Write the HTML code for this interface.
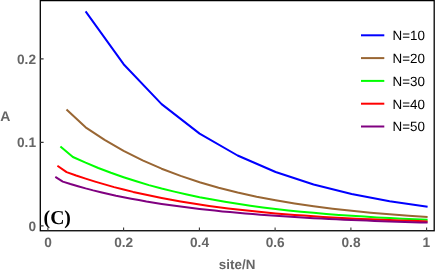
<!DOCTYPE html>
<html><head><meta charset="utf-8"><title>chart</title>
<style>html,body{margin:0;padding:0;background:#fff;}body{width:436px;height:273px;overflow:hidden;position:relative;font-family:"Liberation Sans",sans-serif;}</style>
</head><body>
<svg width="436" height="273" viewBox="0 0 436 273" style="position:absolute;left:0;top:0;will-change:transform;opacity:0.999;text-rendering:geometricPrecision">
<rect x="0" y="0" width="436" height="273" fill="#fff"/>
<path d="M85.6 11.3 L123.6 64.2 L161.6 104.1 L199.6 133.6 L237.6 155.5 L275.6 172.0 L313.6 184.5 L351.6 194.0 L389.6 201.3 L427.6 206.8" fill="none" stroke="#0000ff" stroke-width="2" stroke-linejoin="round" stroke-linecap="butt"/>
<path d="M66.5 109.4 L85.6 127.3 L104.6 139.9 L123.6 150.9 L142.6 160.4 L161.6 168.7 L180.6 175.9 L199.6 182.2 L218.6 187.7 L237.6 192.5 L256.6 196.7 L275.6 200.3 L294.6 203.5 L313.6 206.3 L332.6 208.7 L351.6 210.8 L370.6 212.7 L389.6 214.3 L408.6 215.8 L427.6 217.0" fill="none" stroke="#996633" stroke-width="2" stroke-linejoin="round" stroke-linecap="butt"/>
<path d="M60.4 146.4 L72.9 157.0 L85.6 162.7 L98.3 168.0 L110.9 172.8 L123.6 177.2 L136.3 181.3 L148.9 185.1 L161.6 188.5 L174.3 191.6 L186.9 194.5 L199.6 197.2 L212.3 199.6 L224.9 201.8 L237.6 203.8 L250.3 205.7 L262.9 207.4 L275.6 208.9 L288.3 210.4 L300.9 211.7 L313.6 212.8 L326.3 213.9 L338.9 214.9 L351.6 215.8 L364.3 216.6 L376.9 217.4 L389.6 218.1 L402.3 218.7 L414.9 219.3 L427.6 219.8" fill="none" stroke="#00ff00" stroke-width="2" stroke-linejoin="round" stroke-linecap="butt"/>
<path d="M57.4 165.7 L66.6 172.1 L76.1 175.5 L85.6 178.6 L95.1 181.6 L104.6 184.4 L114.1 187.1 L123.6 189.5 L133.1 191.9 L142.6 194.0 L152.1 196.1 L161.6 198.0 L171.1 199.8 L180.6 201.5 L190.1 203.1 L199.6 204.5 L209.1 205.9 L218.6 207.2 L228.1 208.4 L237.6 209.5 L247.1 210.6 L256.6 211.6 L266.1 212.5 L275.6 213.4 L285.1 214.2 L294.6 214.9 L304.1 215.6 L313.6 216.3 L323.1 216.9 L332.6 217.4 L342.1 218.0 L351.6 218.5 L361.1 218.9 L370.6 219.3 L380.1 219.7 L389.6 220.1 L399.1 220.5 L408.6 220.8 L418.1 221.1 L427.6 221.4" fill="none" stroke="#ff0000" stroke-width="2" stroke-linejoin="round" stroke-linecap="butt"/>
<path d="M55.3 176.9 L62.8 181.6 L70.4 184.0 L78.0 186.2 L85.6 188.4 L93.2 190.4 L100.8 192.2 L108.4 194.0 L116.0 195.7 L123.6 197.2 L131.2 198.7 L138.8 200.1 L146.4 201.5 L154.0 202.7 L161.6 203.9 L169.2 205.0 L176.8 206.1 L184.4 207.1 L192.0 208.0 L199.6 208.9 L207.2 209.8 L214.8 210.6 L222.4 211.4 L230.0 212.1 L237.6 212.8 L245.2 213.5 L252.8 214.1 L260.4 214.7 L268.0 215.3 L275.6 215.8 L283.2 216.3 L290.8 216.8 L298.4 217.3 L306.0 217.7 L313.6 218.2 L321.2 218.6 L328.8 219.0 L336.4 219.3 L344.0 219.7 L351.6 220.0 L359.2 220.3 L366.8 220.6 L374.4 220.9 L382.0 221.2 L389.6 221.5 L397.2 221.7 L404.8 221.9 L412.4 222.2 L420.0 222.4 L427.6 222.6" fill="none" stroke="#800080" stroke-width="2" stroke-linejoin="round" stroke-linecap="butt"/>
<rect x="40.3" y="0.6" width="393.9" height="230.15" fill="none" stroke="#000" stroke-width="1.3"/>
<path d="M47.9 230.5 V227.4 M123.6 230.5 V227.4 M199.4 230.5 V227.4 M275.1 230.5 V227.4 M350.9 230.5 V227.4 M426.6 230.5 V227.4 M40.3 225.9 H43.6 M40.3 142.4 H43.6 M40.3 58.9 H43.6" fill="none" stroke="#3a3a3a" stroke-width="1.1"/>
<text x="48.0" y="247.1" text-anchor="middle" font-family="Liberation Sans, sans-serif" font-weight="bold" font-size="13.7" fill="#666">0</text>
<text x="123.7" y="247.1" text-anchor="middle" font-family="Liberation Sans, sans-serif" font-weight="bold" font-size="13.7" fill="#666">0.2</text>
<text x="199.5" y="247.1" text-anchor="middle" font-family="Liberation Sans, sans-serif" font-weight="bold" font-size="13.7" fill="#666">0.4</text>
<text x="275.2" y="247.1" text-anchor="middle" font-family="Liberation Sans, sans-serif" font-weight="bold" font-size="13.7" fill="#666">0.6</text>
<text x="351.0" y="247.1" text-anchor="middle" font-family="Liberation Sans, sans-serif" font-weight="bold" font-size="13.7" fill="#666">0.8</text>
<text x="426.3" y="247.1" text-anchor="middle" font-family="Liberation Sans, sans-serif" font-weight="bold" font-size="13.7" fill="#666">1</text>
<text x="36.0" y="230.9" text-anchor="end" font-family="Liberation Sans, sans-serif" font-weight="bold" font-size="13.7" fill="#666">0</text>
<text x="36.0" y="147.4" text-anchor="end" font-family="Liberation Sans, sans-serif" font-weight="bold" font-size="13.7" fill="#666">0.1</text>
<text x="36.0" y="63.9" text-anchor="end" font-family="Liberation Sans, sans-serif" font-weight="bold" font-size="13.7" fill="#666">0.2</text>
<text x="237.1" y="268.6" text-anchor="middle" font-family="Liberation Sans, sans-serif" font-weight="bold" font-size="13.4" fill="#666">site/N</text>
<text x="5.2" y="121.0" text-anchor="middle" font-family="Liberation Sans, sans-serif" font-weight="bold" font-size="14" fill="#666">A</text>
<text x="43.6" y="223.8" text-anchor="start" font-family="Liberation Serif, serif" font-weight="bold" font-size="19.7" fill="#000">(C)</text>
<path d="M361 35.3 H384.3" stroke="#0000ff" stroke-width="2" fill="none"/>
<text x="392.6" y="40.0" text-anchor="start" font-family="Liberation Sans, sans-serif" font-weight="normal" font-size="13.4" fill="#000">N=10</text>
<path d="M361 58.1 H384.3" stroke="#996633" stroke-width="2" fill="none"/>
<text x="392.6" y="62.8" text-anchor="start" font-family="Liberation Sans, sans-serif" font-weight="normal" font-size="13.4" fill="#000">N=20</text>
<path d="M361 80.9 H384.3" stroke="#00ff00" stroke-width="2" fill="none"/>
<text x="392.6" y="85.7" text-anchor="start" font-family="Liberation Sans, sans-serif" font-weight="normal" font-size="13.4" fill="#000">N=30</text>
<path d="M361 103.7 H384.3" stroke="#ff0000" stroke-width="2" fill="none"/>
<text x="392.6" y="108.5" text-anchor="start" font-family="Liberation Sans, sans-serif" font-weight="normal" font-size="13.4" fill="#000">N=40</text>
<path d="M361 126.5 H384.3" stroke="#800080" stroke-width="2" fill="none"/>
<text x="392.6" y="131.2" text-anchor="start" font-family="Liberation Sans, sans-serif" font-weight="normal" font-size="13.4" fill="#000">N=50</text>
</svg>
</body></html>
